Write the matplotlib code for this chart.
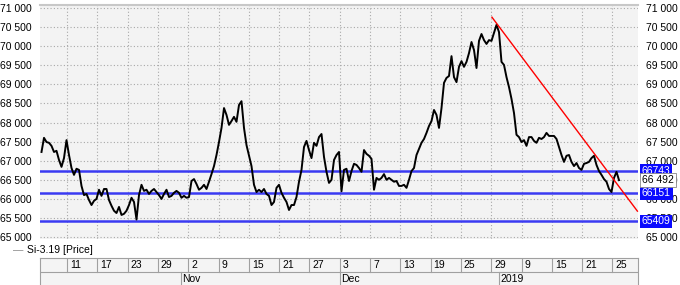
import matplotlib.pyplot as plt
import numpy as np

plt.rcParams['font.family'] = ['Liberation Sans', 'DejaVu Sans']

# Si-3.19 price, ~3 readings per trading day
price = [
    67230, 67600, 67490, 67470, 67390, 67230, 67260, 67020, 66840, 67070,
    67540, 67150, 66810, 66630, 66790, 66760, 66340, 66100, 66130, 65970,
    65840, 65950, 66000, 66240, 66080, 66260, 66260, 65970, 65820, 65690,
    65630, 65790, 65580, 65610, 65690, 65840, 66030, 65920, 65460, 66100,
    66370, 66210, 66240, 66130, 66210, 66260, 66180, 66100, 66000, 66130,
    66240, 66050, 66080, 66160, 66210, 66160, 66030, 66080, 66030, 66050,
    66470, 66520, 66390, 66240, 66290, 66370, 66260, 66450, 66650, 66860,
    67150, 67490, 67860, 68380, 68200, 67940, 68040, 68150, 68020, 68460,
    68560, 67860, 67410, 67130, 66860, 66370, 66180, 66240, 66180, 66260,
    66130, 66080, 65840, 65920, 66290, 66370, 66160, 66030, 65920, 65710,
    65840, 65840, 66050, 66450, 66760, 67360, 67520, 67280, 67070, 67470,
    67390, 67620, 67700, 67100, 66710, 66420, 66500, 67020, 67150, 67230,
    66200, 66760, 66790, 66470, 66730, 66920, 66890, 66810, 66710, 67280,
    67180, 67130, 67050, 66240, 66550, 66500, 66550, 66650, 66500, 66550,
    66500, 66450, 66470, 66340, 66340, 66370, 66290, 66500, 66730, 66810,
    67150, 67310, 67470, 67570, 67730, 67910, 68040, 68330, 68200, 67860,
    68380, 69040, 69170, 69220, 69740, 69190, 69060, 69460, 69610, 69460,
    69590, 69820, 70110, 69900, 69430, 70140, 70320, 70160, 70060, 70160,
    70140, 70350, 70560, 70370, 69590, 69510, 69190, 68930, 68620, 68250,
    67680, 67620, 67490, 67540, 67390, 67620, 67620, 67520, 67470, 67600,
    67570, 67620, 67730, 67650, 67650, 67650, 67570, 67360, 67150, 66970,
    67130, 67150, 66970, 66860, 66940, 66810, 66760, 66920, 66940, 66970,
    67070, 67130, 66890, 66730, 66630, 66520, 66450, 66260, 66180, 66550,
    66710, 66492,
]
last_price = 66492

# date axis: one tick every 4 trading days, starting Oct 11
tick_labels = ['11', '17', '23', '29', '2', '9', '15', '21', '27', '3',
               '7', '13', '19', '25', '29', '9', '15', '21', '25']
tick_days = [4 * i for i in range(len(tick_labels))]
month_labels = ['Nov', 'Dec', '2019']
month_days = [15, 36, 57]

levels = [66743, 66151, 65409]
trend_days = [56.1, 75.3]
trend_vals = [70760, 65680]

BAR0 = 10.2          # bar index of first tick day
BARS_PER_DAY = 3.03
FS = 7.5

def day_pos(d):
    return BAR0 + BARS_PER_DAY * np.asarray(d, dtype=float)

def fmt(v):
    return f'{int(v):,}'.replace(',', ' ')

W, H = 680, 285
fig = plt.figure(figsize=(W / 100, H / 100), dpi=100)
fig.patch.set_facecolor('white')
L, R, T, B = 40, 638, 5, 239
ax = fig.add_axes([L / W, 1 - B / H, (R - L) / W, (B - T) / H])
ax.set_facecolor('#f3f3f3')

x = np.arange(len(price))
ax.plot(x, price, color='black', lw=1.4, zorder=4)

blue = '#3a3af2'
for lv in levels:
    ax.axhline(lv, color=blue, lw=1.8, zorder=3)
ax.plot(day_pos(trend_days), trend_vals, color='#ff0000', lw=1.0, zorder=5,
        clip_on=False)

ax.set_xlim(-0.6, 238.6)
ax.set_ylim(64950, 71080)
ax.set_yticks(np.arange(65000, 71001, 500))
ax.yaxis.set_major_formatter(plt.FuncFormatter(lambda v, p: fmt(v)))
ax.set_xticks(day_pos(tick_days))
ax.set_xticklabels([])
ax.tick_params(axis='y', labelleft=True, labelright=True, left=False,
               right=False, labelsize=FS, pad=2.5)
ax.tick_params(axis='x', bottom=False, length=0)
ax.grid(True, color='#a8a8a8', lw=0.8, linestyle=(0, (1, 2)))
for s in ['left', 'right', 'bottom']:
    ax.spines[s].set_visible(False)
ax.spines['top'].set_color('#c8c8c8')
ax.spines['top'].set_linewidth(1.5)

# price tags on the right
tx = 1 + 4 / (R - L)
for lv in levels:
    ax.text(tx, lv, str(lv), transform=ax.get_yaxis_transform(), fontsize=FS,
            color='white', va='center', ha='left', zorder=6, clip_on=False,
            bbox=dict(boxstyle='square,pad=0.15', fc='#0a0aff', ec='none'))
ax.text(tx, last_price, fmt(last_price), transform=ax.get_yaxis_transform(),
        fontsize=FS, color='black', va='center', ha='left', zorder=6,
        clip_on=False,
        bbox=dict(boxstyle='square,pad=0.22', fc='white', ec='#888888', lw=0.6))

# legend
fig.text(13 / W, 1 - 250 / H, '\u2014', color='#888888', fontsize=FS, va='center')
fig.text(27 / W, 1 - 250 / H, 'Si-3.19 [Price]', color='black', fontsize=FS,
         va='center')

# date table
tb = fig.add_axes([L / W, 0, (R - L) / W, 27 / H])
tb.set_xlim(ax.get_xlim())
tb.set_ylim(0, 27)
tb.set_facecolor('#f4f4f4')
for s in tb.spines.values():
    s.set_color('#a0a0a0')
    s.set_linewidth(0.8)
tb.spines['bottom'].set_visible(False)
tb.axhline(13.5, color='#a0a0a0', lw=0.8)
tb.set_xticks([])
tb.set_yticks([])
for p, lab in zip(day_pos(tick_days), tick_labels):
    tb.plot([p, p], [13.5, 27], color='#a0a0a0', lw=0.8)
    tb.text(p + 1.2, 20.3, lab, fontsize=FS, va='center', ha='left')
for p, lab in zip(day_pos(month_days), month_labels):
    tb.plot([p, p], [0, 13.5], color='#a0a0a0', lw=0.8)
    tb.text(p + 0.6, 6.5, lab, fontsize=FS, va='center', ha='left')

fig.savefig('out.png', dpi=100)
